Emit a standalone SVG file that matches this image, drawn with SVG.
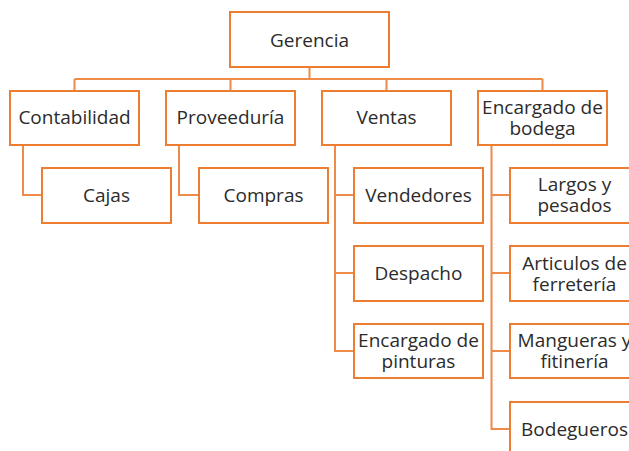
<svg xmlns="http://www.w3.org/2000/svg" width="629" height="451" viewBox="0 0 629 451">
<style>
.box{fill:#fff;stroke:#ED7D31;stroke-width:2}
.ln{fill:none;stroke:#EE8A4A;stroke-width:2}
text{font-family:"Open Sans","Noto Sans",sans-serif;font-size:19px;fill:#2b2b2b;text-anchor:middle;dominant-baseline:central}
</style>
<rect width="629" height="451" fill="#fff"/>
<g id="connectors">
<path class="ln" d="M309.5 67V79M74.5 79H542.5M74.5 79V91M230.5 79V91M386.5 79V91M542.5 79V91"/>
<path class="ln" d="M23 145V195H42"/>
<path class="ln" d="M179 145V195H199"/>
<path class="ln" d="M335 145V351H354M335 195H354M335 273H354"/>
<path class="ln" d="M491.5 145V429H510M491.5 195H510M491.5 273H510M491.5 351H510"/>
</g>
<g id="gerencia"><rect class="box" x="230" y="12" width="159" height="55"/><text x="309.5" y="40">Gerencia</text></g>
<g id="contabilidad"><rect class="box" x="10" y="91" width="129" height="54"/><text x="74.5" y="117">Contabilidad</text></g>
<g id="proveeduria"><rect class="box" x="166" y="91" width="129" height="54"/><text x="230.5" y="117">Proveeduría</text></g>
<g id="ventas"><rect class="box" x="322" y="91" width="129" height="54"/><text x="386.5" y="117">Ventas</text></g>
<g id="encargado-bodega"><rect class="box" x="478" y="91" width="129" height="54"/><text x="542.5" y="106.5">Encargado de</text><text x="542.5" y="127.5">bodega</text></g>
<g id="cajas"><rect class="box" x="42" y="168" width="129" height="55"/><text x="106.5" y="195">Cajas</text></g>
<g id="compras"><rect class="box" x="199" y="168" width="129" height="55"/><text x="263.5" y="195">Compras</text></g>
<g id="vendedores"><rect class="box" x="354" y="168" width="129" height="55"/><text x="418.5" y="195">Vendedores</text></g>
<g id="despacho"><rect class="box" x="354" y="246" width="129" height="55"/><text x="418.5" y="273">Despacho</text></g>
<g id="encargado-pinturas"><rect class="box" x="354" y="324" width="129" height="54"/><text x="418.5" y="339.5">Encargado de</text><text x="418.5" y="360.5">pinturas</text></g>
<g id="largos"><rect class="box" x="510" y="168" width="129" height="55"/><text x="574.5" y="184">Largos y</text><text x="574.5" y="205">pesados</text></g>
<g id="articulos"><rect class="box" x="510" y="246" width="129" height="55"/><text x="574.5" y="262.5">Articulos de</text><text x="574.5" y="283.5">ferretería</text></g>
<g id="mangueras"><rect class="box" x="510" y="324" width="129" height="54"/><text x="574.5" y="339.5">Mangueras y</text><text x="574.5" y="360.5">fitinería</text></g>
<g id="bodegueros"><rect class="box" x="510" y="402" width="129" height="55"/><text x="574.5" y="429">Bodegueros</text></g>
</svg>
